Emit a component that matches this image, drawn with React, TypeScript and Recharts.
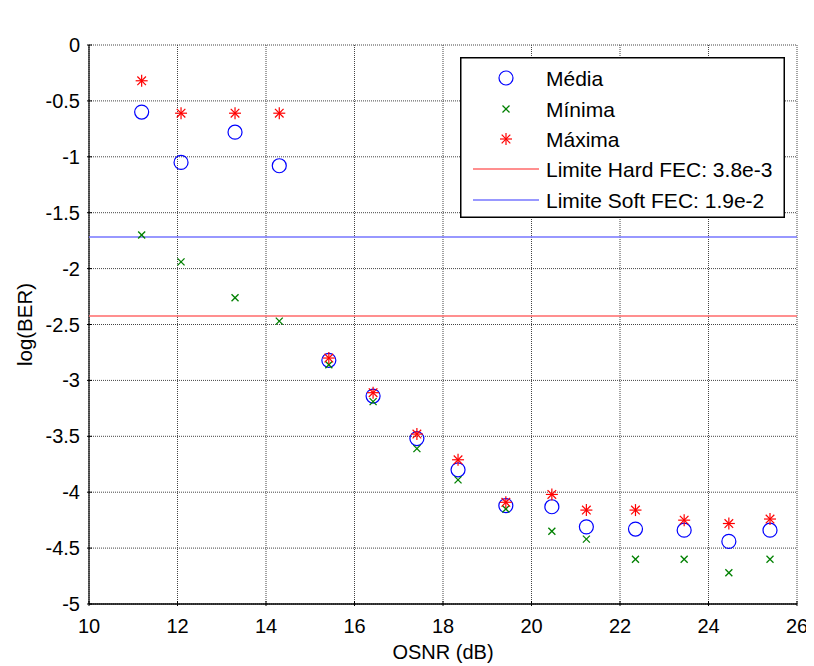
import React from 'react';
import {
  ScatterChart,
  Scatter,
  XAxis,
  YAxis,
  CartesianGrid,
  Legend,
  Label,
} from 'recharts';

// OSNR (dB) of each measurement
const osnr = [11.19, 12.08, 13.3, 14.3, 15.42, 16.42, 17.41, 18.34, 19.42, 20.46, 21.24, 22.35, 23.45, 24.46, 25.39];
// log10(BER) statistics per OSNR point
const media = [-0.6, -1.05, -0.78, -1.08, -2.82, -3.14, -3.52, -3.8, -4.12, -4.13, -4.31, -4.33, -4.34, -4.44, -4.34];
const minima = [-1.7, -1.94, -2.26, -2.47, -2.86, -3.19, -3.61, -3.89, -4.15, -4.35, -4.42, -4.6, -4.6, -4.72, -4.6];
const maxima = [-0.32, -0.61, -0.61, -0.61, -2.8, -3.11, -3.48, -3.71, -4.09, -4.02, -4.16, -4.16, -4.25, -4.28, -4.24];

// FEC thresholds (BER)
const hardFec = 3.8e-3;
const softFec = 1.9e-2;

const xTicks = [10, 12, 14, 16, 18, 20, 22, 24, 26];
const yTicks = [0, -0.5, -1, -1.5, -2, -2.5, -3, -3.5, -4, -4.5, -5];
const xRange = [10, 26];

const seriesLabels = ['Média', 'Mínima', 'Máxima'];
const limitLabels = ['Limite Hard FEC: 3.8e-3', 'Limite Soft FEC: 1.9e-2'];

const FONT = '"Liberation Sans", Arial, Helvetica, sans-serif';

const toPoints = (ys: number[]) => osnr.map((x, i) => ({ x, y: ys[i] }));
const limitPoints = (ber: number) => xRange.map((x) => ({ x, y: Math.log10(ber) }));

const BLUE = '#0000ff';
const GREEN = '#008000';
const RED = '#ff0000';
const LIMIT_RED = '#ff6a6a';
const LIMIT_BLUE = '#7676ff';

const CircleMark = (p: any) => (
  <circle cx={p.cx} cy={p.cy} r={7} fill="none" stroke={BLUE} strokeWidth={1.2} />
);

const CrossMark = (p: any) => {
  const { cx, cy } = p;
  const s = 3.5;
  return (
    <g stroke={GREEN} strokeWidth={1.3} fill="none">
      <line x1={cx - s} y1={cy - s} x2={cx + s} y2={cy + s} />
      <line x1={cx + s} y1={cy - s} x2={cx - s} y2={cy + s} />
    </g>
  );
};

const StarMark = (p: any) => {
  const { cx, cy } = p;
  const s = 6;
  const d = 4.3;
  return (
    <g stroke={RED} strokeWidth={1.2} fill="none">
      <line x1={cx - s} y1={cy} x2={cx + s} y2={cy} />
      <line x1={cx} y1={cy - s} x2={cx} y2={cy + s} />
      <line x1={cx - d} y1={cy - d} x2={cx + d} y2={cy + d} />
      <line x1={cx + d} y1={cy - d} x2={cx - d} y2={cy + d} />
    </g>
  );
};

const NoMark = () => null;

// tick labels with short inward tick marks (box style axes)
const XTick = (p: any) => (
  <g>
    <line x1={p.x} x2={p.x} y1={p.y} y2={p.y - 5} stroke="#000" strokeWidth={1} />
    <text x={p.x} y={p.y + 27} textAnchor="middle" fontFamily={FONT} fontSize={20} fill="#000">
      {p.payload.value}
    </text>
  </g>
);

const YTick = (p: any) => (
  <g>
    <line x1={p.x} x2={p.x + 5} y1={p.y} y2={p.y} stroke="#000" strokeWidth={1} />
    <text x={p.x - 7} y={p.y + 7} textAnchor="end" fontFamily={FONT} fontSize={20} fill="#000">
      {p.payload.value}
    </text>
  </g>
);

const TopTick = (p: any) => (
  <line x1={p.x} x2={p.x} y1={p.y} y2={p.y + 5} stroke="#000" strokeWidth={1} />
);

const RightTick = (p: any) => (
  <line x1={p.x} x2={p.x - 5} y1={p.y} y2={p.y} stroke="#000" strokeWidth={1} />
);

const LegendBox = () => {
  const rowY = [21, 52, 82, 112, 143];
  const markers = [
    <CircleMark key="m" cx={46} cy={rowY[0]} />,
    <CrossMark key="n" cx={46} cy={rowY[1]} />,
    <StarMark key="x" cx={46} cy={rowY[2]} />,
  ];
  return (
    <svg width={325} height={161} style={{ display: 'block' }}>
      <rect x={0.75} y={0.75} width={323.5} height={159.5} fill="#fff" stroke="#000" strokeWidth={1.5} />
      {markers}
      <line x1={13} x2={79} y1={rowY[3]} y2={rowY[3]} stroke={LIMIT_RED} strokeWidth={1.6} />
      <line x1={13} x2={79} y1={rowY[4]} y2={rowY[4]} stroke={LIMIT_BLUE} strokeWidth={1.6} />
      {[...seriesLabels, ...limitLabels].map((t, i) => (
        <text key={t} x={86} y={rowY[i] + 7.5} fontFamily={FONT} fontSize={21} fill="#000">
          {t}
        </text>
      ))}
    </svg>
  );
};

// horizontal threshold line joining the scaled endpoints of a limit series
const LimitLine = (props: any) => {
  const pts = (props.points || []).map((p: any) => ({
    x: p.x ?? p.cx,
    y: p.y ?? p.cy,
  }));
  if (pts.length < 2) return null;
  const y = Math.round(pts[0].y);
  return (
    <line x1={pts[0].x} x2={pts[pts.length - 1].x} y1={y} y2={y} stroke={props.color} strokeWidth={1.6} />
  );
};

export default function App() {
  return (
    <ScatterChart width={806} height={658} margin={{ top: 37, right: 17, bottom: 0, left: 0 }}>
      <CartesianGrid
        stroke="#444"
        strokeWidth={1}
        strokeDasharray="1 1"
        horizontalValues={yTicks}
        verticalValues={xTicks}
      />
      <XAxis
        type="number"
        dataKey="x"
        domain={xRange}
        ticks={xTicks}
        allowDataOverflow
        height={62}
        tickSize={0}
        tickLine={false}
        axisLine={{ stroke: '#000', strokeWidth: 1.5 }}
        tick={<XTick />}
      >
        <Label
          content={(props: any) => {
            const vb = props.viewBox;
            return (
              <text x={vb.x + vb.width / 2} y={vb.y + 55} textAnchor="middle" fontFamily={FONT} fontSize={20}>
                OSNR (dB)
              </text>
            );
          }}
        />
      </XAxis>
      <XAxis
        xAxisId="t"
        orientation="top"
        type="number"
        domain={xRange}
        ticks={xTicks}
        height={0}
        tickSize={0}
        tickLine={false}
        tick={<TopTick />}
        axisLine={{ stroke: '#000', strokeWidth: 1.2 }}
      >
        <Label
          content={(props: any) => {
            const vb = props.viewBox;
            return (
              <text x={vb.x + vb.width / 2} y={20} textAnchor="middle" fontFamily={FONT} fontSize={21}>
                BER da Polarização Y vs. OSNR
              </text>
            );
          }}
        />
      </XAxis>
      <YAxis
        type="number"
        dataKey="y"
        domain={[-5, 0]}
        ticks={yTicks}
        allowDataOverflow
        width={81}
        tickSize={0}
        tickLine={false}
        axisLine={{ stroke: '#000', strokeWidth: 1.2 }}
        tick={<YTick />}
      >
        <Label
          content={(props: any) => {
            const vb = props.viewBox;
            const cx = 24;
            const cy = vb.y + vb.height / 2;
            return (
              <text
                x={cx}
                y={cy}
                transform={`rotate(-90 ${cx} ${cy})`}
                textAnchor="middle"
                fontFamily={FONT}
                fontSize={20.5}
              >
                log(BER)
              </text>
            );
          }}
        />
      </YAxis>
      <YAxis
        yAxisId="r"
        orientation="right"
        type="number"
        domain={[-5, 0]}
        ticks={yTicks}
        width={0}
        tickSize={0}
        tickLine={false}
        tick={<RightTick />}
        axisLine={{ stroke: '#000', strokeWidth: 1.2 }}
      />
      <Scatter
        name={limitLabels[0]}
        data={limitPoints(hardFec)}
        line={<LimitLine color={LIMIT_RED} />}
        shape={<NoMark />}
        isAnimationActive={false}
      />
      <Scatter
        name={limitLabels[1]}
        data={limitPoints(softFec)}
        line={<LimitLine color={LIMIT_BLUE} />}
        shape={<NoMark />}
        isAnimationActive={false}
      />
      <Scatter name={seriesLabels[0]} data={toPoints(media)} shape={<CircleMark />} isAnimationActive={false} />
      <Scatter name={seriesLabels[1]} data={toPoints(minima)} shape={<CrossMark />} isAnimationActive={false} />
      <Scatter name={seriesLabels[2]} data={toPoints(maxima)} shape={<StarMark />} isAnimationActive={false} />
      <Legend
        layout="vertical"
        align="center"
        verticalAlign="middle"
        wrapperStyle={{ left: 452, top: 49, width: 325, height: 161 }}
        content={() => <LegendBox />}
      />
    </ScatterChart>
  );
}
